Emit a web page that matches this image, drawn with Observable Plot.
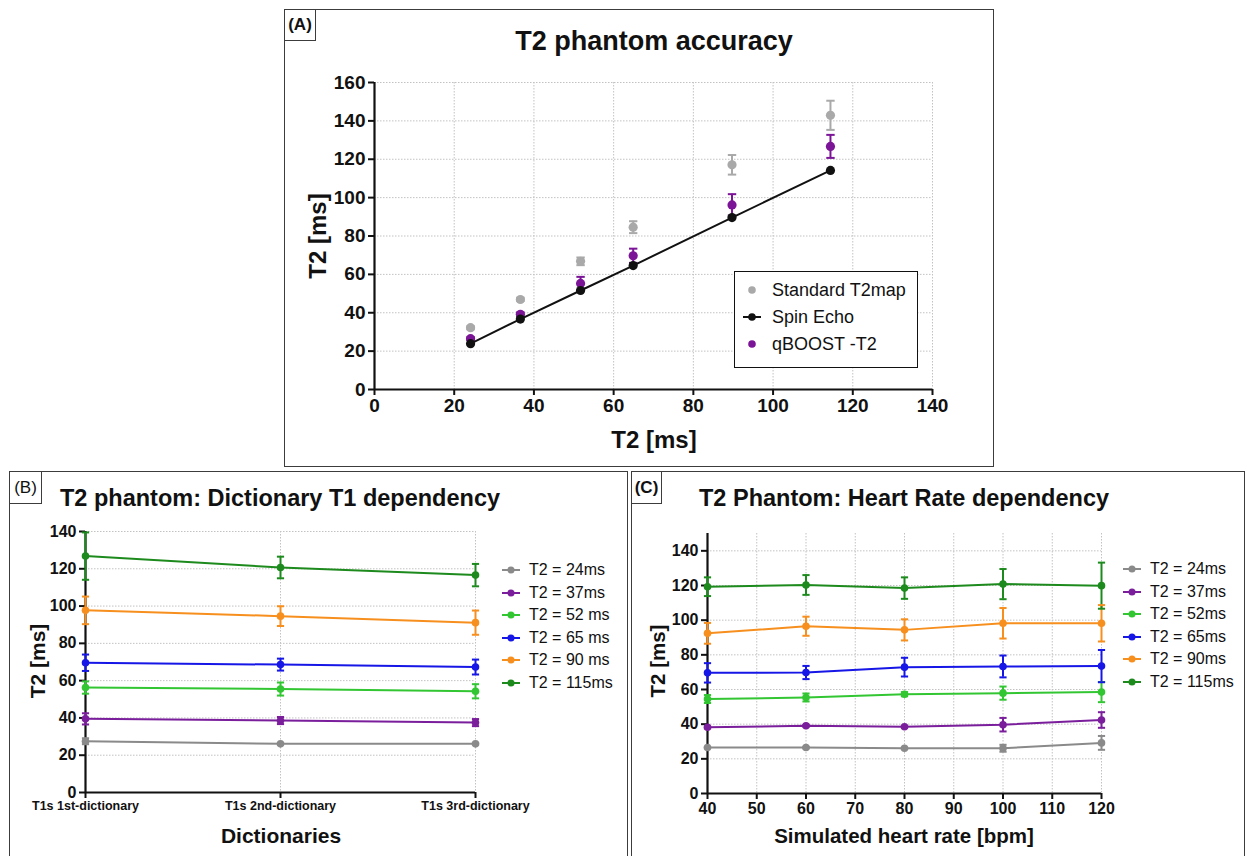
<!DOCTYPE html>
<html>
<head>
<meta charset="utf-8">
<script src="https://cdn.jsdelivr.net/npm/d3@7"></script>
<script src="https://cdn.jsdelivr.net/npm/@observablehq/plot@0.6"></script>
<style>
  html, body { margin: 0; padding: 0; background: #fff; }
  #page { position: relative; width: 1247px; height: 856px; overflow: hidden; background: #fff;
          font-family: "Liberation Sans", Arial, Helvetica, sans-serif; color: #111; }
  .panel { position: absolute; border: 1.5px solid #3c3c3c; box-sizing: border-box; }
  .tag { position: absolute; border: 1.5px solid #3c3c3c; box-sizing: border-box; background: #fff;
         display: flex; align-items: center; justify-content: center; font-size: 17px; }
  .txt { position: absolute; white-space: nowrap; color: #111; }
  .chart { position: absolute; }
  .legbox { position: absolute; border: 1.5px solid #111; box-sizing: border-box; background: #fff; }
  .legrow { position: absolute; display: flex; align-items: center; white-space: nowrap; color: #111; }
</style>
</head>
<body>
<div id="page"></div>
<script>
// ---------------- DATA ----------------
// Panel A: T2 phantom accuracy
const referenceT2 = [24.1, 36.6, 51.7, 64.9, 89.7, 114.4];   // spin-echo reference T2 (x)
const spinEcho     = [23.9, 36.7, 51.6, 64.6, 89.6, 114.2];
const standardT2map = [32.2, 46.9, 66.8, 84.6, 117.1, 142.9];
const standardErr   = [0.8, 0.8, 2.0, 3.1, 5.1, 7.6];
const qboostT2      = [26.5, 39.2, 55.3, 69.7, 96.2, 126.7];
const qboostErr     = [0.8, 1.0, 3.4, 3.7, 5.6, 6.0];
const legendA = ["Standard T2map", "Spin Echo", "qBOOST -T2"];
const ticksAx = [0, 20, 40, 60, 80, 100, 120, 140];
const ticksAy = [0, 20, 40, 60, 80, 100, 120, 140, 160];

// Panel B: dictionary T1 dependency
const dictionaries = ["T1s 1st-dictionary", "T1s 2nd-dictionary", "T1s 3rd-dictionary"];
const seriesB = ["T2 = 24ms", "T2 = 37ms", "T2 = 52 ms", "T2 = 65 ms", "T2 = 90 ms", "T2 = 115ms"];
const b24 = [27.5, 26.1, 26.1];    const b24Err = [1.6, 0.3, 0.3];
const b37 = [39.5, 38.6, 37.5];    const b37Err = [3.0, 1.9, 1.9];
const b52 = [56.3, 55.5, 54.3];    const b52Err = [3.3, 3.5, 3.8];
const b65 = [69.6, 68.6, 67.3];    const b65Err = [4.4, 3.2, 4.0];
const b90 = [97.7, 94.6, 91.1];    const b90Err = [7.4, 5.3, 6.5];
const b115 = [126.8, 120.7, 116.6]; const b115Err = [12.7, 5.8, 6.0];
const ticksBy = [0, 20, 40, 60, 80, 100, 120, 140];

// Panel C: heart rate dependency
const heartRates = [40, 60, 80, 100, 120];
const seriesC = ["T2 = 24ms", "T2 = 37ms", "T2 = 52ms", "T2 = 65ms", "T2 = 90ms", "T2 = 115ms"];
const c24 = [26.5, 26.5, 26.1, 26.1, 29.2];      const c24Err = [0.4, 0.4, 0.4, 2.0, 4.0];
const c37 = [38.2, 39.1, 38.5, 39.7, 42.4];      const c37Err = [0.6, 0.5, 0.5, 3.9, 4.5];
const c52 = [54.5, 55.4, 57.3, 57.9, 58.5];      const c52Err = [2.3, 2.3, 1.2, 3.8, 5.8];
const c65 = [69.6, 69.8, 72.9, 73.3, 73.5];      const c65Err = [5.6, 3.8, 5.4, 6.3, 9.3];
const c90 = [92.4, 96.5, 94.4, 98.2, 98.2];      const c90Err = [6.0, 5.5, 6.1, 8.8, 10.5];
const c115 = [119.3, 120.3, 118.5, 120.8, 119.9]; const c115Err = [5.4, 5.7, 6.2, 8.7, 13.3];
const ticksCx = [40, 50, 60, 70, 80, 90, 100, 110, 120];
const ticksCy = [0, 20, 40, 60, 80, 100, 120, 140];

// ---------------- STYLE ----------------
const FONT = '"Liberation Sans", Arial, Helvetica, sans-serif';
const colStd = "#a9a9a9", colSE = "#111111", colQB = "#7b1496";
const palette = ["#8a8a8a", "#7a1e9c", "#33c633", "#1616e6", "#f78f1e", "#1d8a1d"];
const gridStyle = {stroke: "#c2c2c2", strokeOpacity: 1, strokeDasharray: "1.5,1.5", strokeWidth: 1};
const capSymbol = {draw(ctx, size) { const w = Math.sqrt(size / Math.PI); ctx.moveTo(-w, 0); ctx.lineTo(w, 0); }};

const page = document.getElementById("page");
function el(cls, css, html) {
  const d = document.createElement("div");
  d.className = cls;
  Object.assign(d.style, css);
  if (html != null) d.textContent = html;
  page.appendChild(d);
  return d;
}
// text positioned by baseline
function text(str, {x, y, size, weight = "normal", anchor = "start"}) {
  const d = el("txt", {fontSize: size + "px", lineHeight: size + "px", fontWeight: weight,
    top: (y - 0.8465 * size) + "px"}, str);
  if (anchor === "middle") { d.style.left = (x - 400) + "px"; d.style.width = "800px"; d.style.textAlign = "center"; }
  else d.style.left = x + "px";
  return d;
}
function vtext(str, {cx, cy, size, weight = "bold"}) {
  el("txt", {fontSize: size + "px", lineHeight: size + "px", fontWeight: weight, left: cx + "px", top: cy + "px",
    transform: "translate(-50%, -50%) rotate(-90deg)"}, str);
}
function placeChart(svg, left, top) {
  const w = document.createElement("div");
  w.className = "chart";
  w.style.left = left + "px"; w.style.top = top + "px";
  w.appendChild(svg);
  page.appendChild(w);
}
function rowsOf(xs, means, errs, name) {
  return xs.map((x, i) => ({x, v: means[i], e: errs[i], s: name}));
}
function errorBars(rows, stroke, r, sw) {
  return [
    Plot.ruleX(rows, {x: "x", y1: d => d.v - d.e, y2: d => d.v + d.e, stroke, strokeWidth: sw}),
    Plot.dot(rows, {x: "x", y: d => d.v + d.e, symbol: capSymbol, r, stroke, fill: "none", strokeWidth: sw}),
    Plot.dot(rows, {x: "x", y: d => d.v - d.e, symbol: capSymbol, r, stroke, fill: "none", strokeWidth: sw})
  ];
}
const plotStyle = {fontFamily: FONT, background: "transparent", color: "#111", overflow: "visible"};

// ---------------- PANEL FRAMES ----------------
el("panel", {left: "284px", top: "9px", width: "710px", height: "458px"});
el("panel", {left: "9px", top: "471px", width: "619px", height: "400px"});
el("panel", {left: "631px", top: "471px", width: "614px", height: "400px"});
el("tag", {left: "284px", top: "9px", width: "32px", height: "32px", fontWeight: "bold"}, "(A)");
el("tag", {left: "9px", top: "471px", width: "33px", height: "33px"}, "(B)");
el("tag", {left: "631px", top: "471px", width: "31px", height: "33px", fontWeight: "bold"}, "(C)");

// ---------------- PANEL A ----------------
const rowsStd = rowsOf(referenceT2, standardT2map, standardErr, legendA[0]);
const rowsSE  = rowsOf(referenceT2, spinEcho, spinEcho.map(() => 0), legendA[1]);
const rowsQB  = rowsOf(referenceT2, qboostT2, qboostErr, legendA[2]);

const plotA = Plot.plot({
  width: 708, height: 456, marginLeft: 89, marginRight: 61, marginTop: 72, marginBottom: 77,
  style: plotStyle,
  x: {domain: [0, 140]},
  y: {domain: [0, 160]},
  marks: [
    Plot.gridX(ticksAx, gridStyle),
    Plot.gridY(ticksAy, gridStyle),
    Plot.axisX(ticksAx, {tickSize: 6, strokeWidth: 2, tickPadding: 3, fontSize: 19, fontWeight: "bold", label: null}),
    Plot.axisY(ticksAy, {tickSize: 6, strokeWidth: 2, tickPadding: 3, fontSize: 19, fontWeight: "bold", label: null}),
    Plot.ruleX([0], {strokeWidth: 2.2}),
    Plot.ruleY([0], {strokeWidth: 2.2}),
    ...errorBars(rowsStd, colStd, 4.2, 2),
    Plot.dot(rowsStd, {x: "x", y: "v", r: 4.6, fill: colStd}),
    ...errorBars(rowsQB, colQB, 4.2, 2),
    Plot.dot(rowsQB, {x: "x", y: "v", r: 4.6, fill: colQB}),
    Plot.line(rowsSE, {x: "x", y: "v", stroke: colSE, strokeWidth: 2}),
    Plot.dot(rowsSE, {x: "x", y: "v", r: 4.6, fill: colSE})
  ]
});
placeChart(plotA, 285, 10);

text("T2 phantom accuracy", {x: 654, y: 51, size: 27, weight: "bold", anchor: "middle"});
text("T2 [ms]", {x: 654, y: 448, size: 24, weight: "bold", anchor: "middle"});
vtext("T2 [ms]", {cx: 318, cy: 236, size: 24});

// legend A
el("legbox", {left: "734px", top: "271px", width: "184px", height: "97px"});
const legColsA = [colStd, colSE, colQB];
legendA.forEach((name, i) => {
  const row = el("legrow", {left: "741px", top: (290 + 27 * i - 13) + "px", height: "26px", fontSize: "18px"});
  const withLine = i === 1;
  row.innerHTML = `<svg width="24" height="12" style="margin-right:7px">` +
    (withLine ? `<line x1="2" y1="6" x2="20" y2="6" stroke="${legColsA[i]}" stroke-width="2"/>` : "") +
    `<circle cx="11" cy="6" r="3.8" fill="${legColsA[i]}"/></svg><span></span>`;
  row.querySelector("span").textContent = name;
});

// ---------------- PANEL B ----------------
const meansB = [b24, b37, b52, b65, b90, b115];
const errsB = [b24Err, b37Err, b52Err, b65Err, b90Err, b115Err];
const rowsB = seriesB.flatMap((s, k) => rowsOf(dictionaries, meansB[k], errsB[k], s));

const plotB = Plot.plot({
  width: 617, height: 384, marginLeft: 75, marginRight: 152, marginTop: 59, marginBottom: 64,
  style: plotStyle,
  x: {type: "point", domain: dictionaries, padding: 0},
  y: {domain: [0, 140]},
  color: {domain: seriesB, range: palette},
  marks: [
    Plot.gridX(dictionaries, gridStyle),
    Plot.gridY(ticksBy, gridStyle),
    Plot.axisX(dictionaries, {tickSize: 6, strokeWidth: 2, tickPadding: 3, fontSize: 12.5, fontWeight: "bold", label: null}),
    Plot.axisY(ticksBy, {tickSize: 6, strokeWidth: 2, tickPadding: 3, fontSize: 16, fontWeight: "bold", label: null}),
    Plot.ruleY([0], {strokeWidth: 2.2}),
    Plot.ruleX([dictionaries[0]], {strokeWidth: 2.2}),
    Plot.line(rowsB, {x: "x", y: "v", z: "s", stroke: "s", strokeWidth: 2}),
    Plot.ruleX(rowsB, {x: "x", y1: d => d.v - d.e, y2: d => d.v + d.e, stroke: "s", strokeWidth: 2}),
    Plot.dot(rowsB, {x: "x", y: d => d.v + d.e, symbol: capSymbol, r: 3.6, stroke: "s", fill: "none", strokeWidth: 2}),
    Plot.dot(rowsB, {x: "x", y: d => d.v - d.e, symbol: capSymbol, r: 3.6, stroke: "s", fill: "none", strokeWidth: 2}),
    Plot.dot(rowsB, {x: "x", y: "v", r: 3.8, fill: "s"})
  ]
});
placeChart(plotB, 10, 472);

text("T2 phantom: Dictionary T1 dependency", {x: 60, y: 507, size: 23.5, weight: "bold"});
text("Dictionaries", {x: 281, y: 843, size: 21, weight: "bold", anchor: "middle"});
vtext("T2 [ms]", {cx: 37, cy: 661, size: 21});

seriesB.forEach((name, i) => {
  const row = el("legrow", {left: "500px", top: (570 + 22.5 * i - 11) + "px", height: "22px", fontSize: "16px"});
  row.innerHTML = `<svg width="24" height="12" style="margin-right:5px"><line x1="2" y1="6" x2="20" y2="6" stroke="${palette[i]}" stroke-width="2"/><circle cx="11" cy="6" r="3.5" fill="${palette[i]}"/></svg><span></span>`;
  row.querySelector("span").textContent = name;
});

// ---------------- PANEL C ----------------
const meansC = [c24, c37, c52, c65, c90, c115];
const errsC = [c24Err, c37Err, c52Err, c65Err, c90Err, c115Err];
const rowsC = seriesC.flatMap((s, k) => rowsOf(heartRates, meansC[k], errsC[k], s));

const plotC = Plot.plot({
  width: 613, height: 384, marginLeft: 75, marginRight: 144, marginTop: 61, marginBottom: 63,
  style: plotStyle,
  x: {domain: [40, 120]},
  y: {domain: [0, 150]},
  color: {domain: seriesC, range: palette},
  marks: [
    Plot.gridX(ticksCx, gridStyle),
    Plot.gridY(ticksCy, gridStyle),
    Plot.axisX(ticksCx, {tickSize: 6, strokeWidth: 2, tickPadding: 3, fontSize: 16, fontWeight: "bold", label: null}),
    Plot.axisY(ticksCy, {tickSize: 6, strokeWidth: 2, tickPadding: 3, fontSize: 16, fontWeight: "bold", label: null}),
    Plot.ruleY([0], {strokeWidth: 2.2}),
    Plot.ruleX([40], {strokeWidth: 2.2}),
    Plot.line(rowsC, {x: "x", y: "v", z: "s", stroke: "s", strokeWidth: 2}),
    Plot.ruleX(rowsC, {x: "x", y1: d => d.v - d.e, y2: d => d.v + d.e, stroke: "s", strokeWidth: 2}),
    Plot.dot(rowsC, {x: "x", y: d => d.v + d.e, symbol: capSymbol, r: 3.6, stroke: "s", fill: "none", strokeWidth: 2}),
    Plot.dot(rowsC, {x: "x", y: d => d.v - d.e, symbol: capSymbol, r: 3.6, stroke: "s", fill: "none", strokeWidth: 2}),
    Plot.dot(rowsC, {x: "x", y: "v", r: 3.8, fill: "s"})
  ]
});
placeChart(plotC, 632, 472);

text("T2 Phantom: Heart Rate dependency", {x: 699, y: 507, size: 23.5, weight: "bold"});
text("Simulated heart rate [bpm]", {x: 904, y: 843, size: 20.5, weight: "bold", anchor: "middle"});
vtext("T2 [ms]", {cx: 658, cy: 661, size: 20.5});

seriesC.forEach((name, i) => {
  const row = el("legrow", {left: "1121px", top: (569 + 22.5 * i - 11) + "px", height: "22px", fontSize: "16px"});
  row.innerHTML = `<svg width="24" height="12" style="margin-right:5px"><line x1="2" y1="6" x2="20" y2="6" stroke="${palette[i]}" stroke-width="2"/><circle cx="11" cy="6" r="3.5" fill="${palette[i]}"/></svg><span></span>`;
  row.querySelector("span").textContent = name;
});
</script>
</body>
</html>
